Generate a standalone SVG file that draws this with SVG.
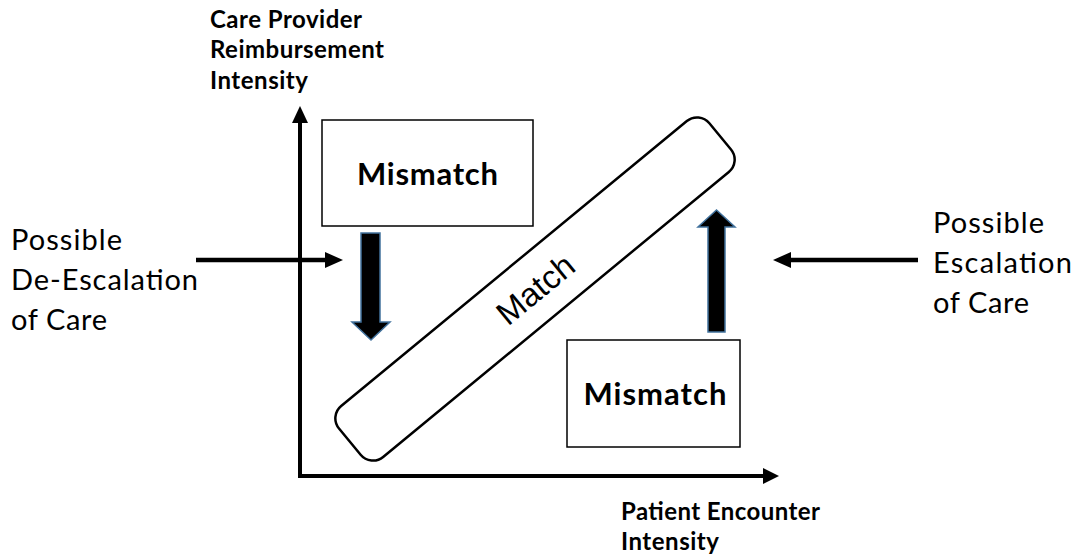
<svg xmlns="http://www.w3.org/2000/svg" width="1078" height="560" viewBox="0 0 1078 560">
  <style>
    .lbl { font-family: Lato, "Open Sans", "Liberation Sans", sans-serif; fill: #000; }
    .axis-title { font-size: 24px; font-weight: bold; }
    .side { font-size: 29px; }
    .box-title { font-size: 31px; font-weight: bold; text-anchor: middle; }
    .band-title { font-family: "Liberation Sans", Arial, sans-serif; font-size: 33px; text-anchor: middle; }
    .box { fill: #fff; stroke: #000; stroke-width: 1.5; }
    .axis { stroke: #000; stroke-width: 4; fill: none; }
    .flow { stroke: #000; stroke-width: 4.5; fill: none; }
    .block { fill: #000; stroke: #41719c; stroke-width: 1.5; stroke-linejoin: miter; }
  </style>

  <rect width="1078" height="560" fill="#fff"/>

  <!-- axes -->
  <g id="axes">
    <path class="axis" d="M300,478 V118"/>
    <polygon points="300,106 292,123 308,123" fill="#000"/>
    <path class="axis" d="M298,476 H766"/>
    <polygon points="779,476 763,468 763,484" fill="#000"/>
  </g>

  <!-- axis titles -->
  <g id="y-title">
    <text class="lbl axis-title" x="210" y="28" textLength="152">Care Provider</text>
    <text class="lbl axis-title" x="210" y="58" textLength="174">Reimbursement</text>
    <text class="lbl axis-title" x="210" y="89" textLength="98">Intensity</text>
  </g>
  <g id="x-title">
    <text class="lbl axis-title" x="621" y="520" textLength="199">Patient Encounter</text>
    <text class="lbl axis-title" x="621" y="550" textLength="98">Intensity</text>
  </g>

  <!-- diagonal match band -->
  <g id="match">
    <rect x="-240" y="-33" width="480" height="66" rx="16" ry="16" transform="translate(535,289) rotate(-39.5)" fill="#fff" stroke="#000" stroke-width="2.5"/>
    <text class="band-title" transform="translate(535,289) rotate(-39.5)" y="12">Match</text>
  </g>

  <!-- mismatch boxes -->
  <g id="mismatch-high">
    <rect class="box" x="322" y="120" width="211" height="106"/>
    <text class="lbl box-title" x="427.5" y="185" textLength="141">Mismatch</text>
  </g>
  <g id="mismatch-low">
    <rect class="box" x="567" y="340" width="173" height="107"/>
    <text class="lbl box-title" x="655" y="405" textLength="143">Mismatch</text>
  </g>

  <!-- side labels -->
  <g id="de-escalation">
    <text class="lbl side" x="11" y="250" textLength="111">Possible</text>
    <text class="lbl side" x="11" y="290" textLength="187">De-Escalation</text>
    <text class="lbl side" x="11" y="330" textLength="96">of Care</text>
  </g>
  <g id="escalation">
    <text class="lbl side" x="933" y="233" textLength="111">Possible</text>
    <text class="lbl side" x="933" y="273" textLength="139">Escalation</text>
    <text class="lbl side" x="933" y="313" textLength="96">of Care</text>
  </g>

  <!-- connectors -->
  <g id="connectors">
    <path class="flow" d="M196,260 H326"/>
    <polygon points="343,260 325,252 325,268" fill="#000"/>
    <path class="flow" d="M918,260 H790"/>
    <polygon points="773,260 791,252 791,268" fill="#000"/>
    <!-- block arrows -->
    <polygon class="block" points="361,233 380,233 380,322 390,322 371,340 352,322 361,322"/>
    <polygon class="block" points="708,332 725,332 725,227 735,227 716.5,210 698,227 708,227"/>
  </g>
</svg>
